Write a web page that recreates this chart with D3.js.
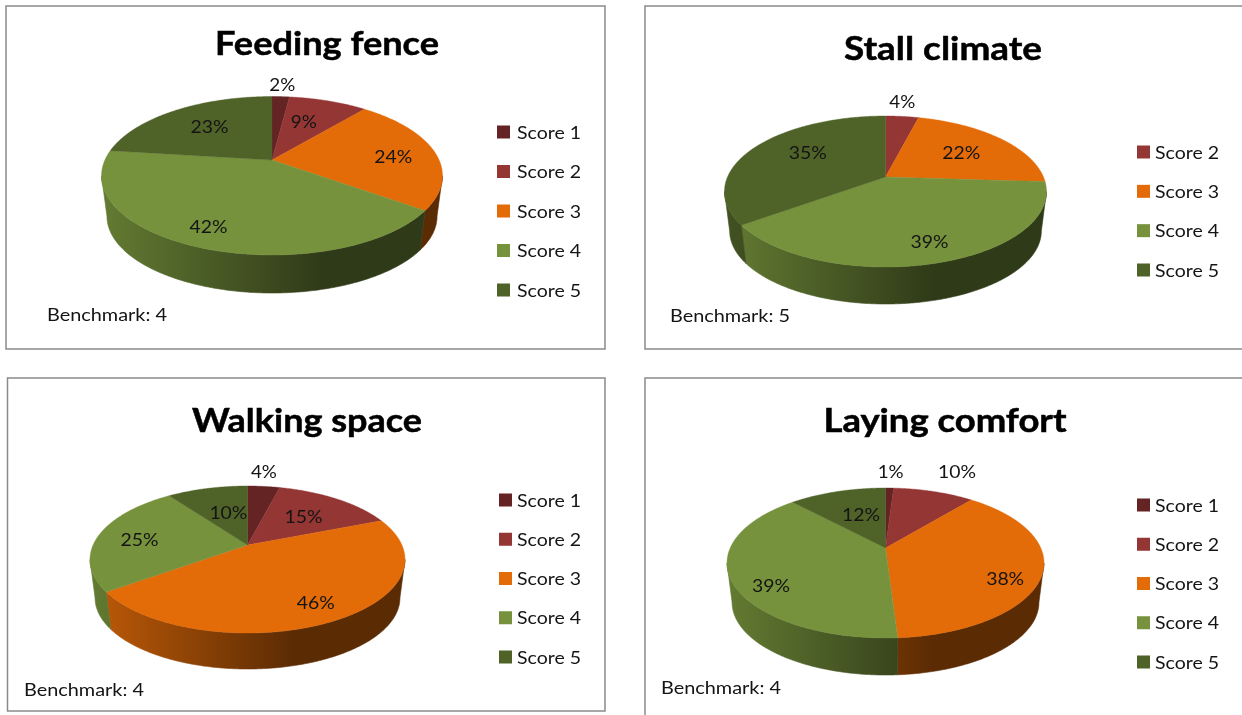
<!DOCTYPE html>
<html>
<head>
<meta charset="utf-8">
<script src="https://cdn.jsdelivr.net/npm/d3@7/dist/d3.min.js"></script>
<style>
html,body{margin:0;padding:0;background:#fff;overflow:hidden}
svg{display:block;filter:blur(0.5px)}
text{font-family:Lato,"Open Sans",sans-serif;fill:#141414}
</style>
</head>
<body>
<svg id="c" width="1242" height="715"></svg>
<script>
// ---- data ----
const scoreColors = {"Score 1":"#632423","Score 2":"#943634","Score 3":"#e36c09","Score 4":"#76923c","Score 5":"#4f6228"};
const titles = ["Feeding fence","Stall climate","Walking space","Laying comfort"];
const benchmarks = ["Benchmark: 4","Benchmark: 5","Benchmark: 4","Benchmark: 4"];
const feedingCats = ["Score 1","Score 2","Score 3","Score 4","Score 5"];
const feedingVals = [2,9,24,42,23];
const stallCats = ["Score 2","Score 3","Score 4","Score 5"];
const stallVals = [4,22,39,35];
const walkingCats = ["Score 1","Score 2","Score 3","Score 4","Score 5"];
const walkingVals = [4,15,46,25,10];
const layingCats = ["Score 1","Score 2","Score 3","Score 4","Score 5"];
const layingVals = [1,10,38,39,12];

// ---- layout (frame, pie projection, text placement) ----
const layouts = [
 {frame:[6,6,599,343], apex:[272,160], top:96.5, bot:255, hw:170.5, depth:38,
  title:[327,55,224], bench:[47,320.5], legend:[497,517,132,290],
  lab:[[1.18,0,0],[.62,-3,-1],[.75,0,4],[.8,-3,-2],[.66,1,0]]},
 {frame:[645,6,700,343], apex:[885.5,177], top:116, bot:267, hw:161, depth:37,
  title:[943,60,198], bench:[670,321.5], legend:[1137,1155,152,270],
  lab:[[1.25,-4,1],[.66,0,1],[.76,3,0],[.6,0,-6]]},
 {frame:[7.5,378,597.5,333], apex:[247.5,545], top:486, bot:633, hw:157.5, depth:36,
  title:[307,432,230], bench:[24,695.5], legend:[499,517,500,657],
  lab:[[1.26,-4,1],[.63,0,1],[.76,0,1],[.73,0,3],[.55,3,-1]]},
 {frame:[645,378,700,400], apex:[885.5,548], top:488, bot:638, hw:158.5, depth:37,
  title:[945,432,243], bench:[661,693.5], legend:[1137,1155,505,662],
  lab:[[1.28,0,1],[1.36,6,1],[.76,0,13],[.74,0,15],[.55,2,-2]]}
];
const series = [[feedingCats,feedingVals],[stallCats,stallVals],[walkingCats,walkingVals],[layingCats,layingVals]];

const svg = d3.select("#c");
const defs = svg.append("defs");
const shade = d3.scaleLinear().domain([0,.65,1]).range([.84,.4,.4]);
const line = d3.line();
const lowerScale = 0.968;   // the pie's underside is further from the viewer

series.forEach(([cats,vals],ci)=>{
  const L = layouts[ci];
  const g = svg.append("g");
  g.append("rect").attr("x",L.frame[0]).attr("y",L.frame[1]).attr("width",L.frame[2]).attr("height",L.frame[3])
    .attr("fill","#fff").attr("stroke","#8a8a8a").attr("stroke-width",1.5);

  // perspective projection of the unit pie plane onto the page
  const [ax,ay] = L.apex;
  const t = ay-L.top, d = L.bot-ay;
  const k = (d-t)/(d+t), b = t*(1+k), a = L.hw*Math.sqrt(1-k*k);
  const proj = (theta,r=1)=>{
    const X=r*Math.sin(theta), Y=r*Math.cos(theta), w=1+k*Y;
    return [ax+a*X/w, ay-b*Y/w];
  };
  const under = p=>[ax+(p[0]-ax)*lowerScale, ay+(p[1]-ay)*lowerScale+L.depth+d*(1-lowerScale)];
  const arcs = d3.pie().value(v=>v).sort(null)(vals);
  const vis0 = Math.acos(-k), vis1 = 2*Math.PI-vis0;
  const sample = (s,e)=>{
    const n=Math.max(2,Math.ceil((e-s)/0.01));
    return d3.range(n+1).map(i=>s+(e-s)*i/n);
  };

  // side walls
  arcs.forEach((A,i)=>{
    const s=Math.max(A.startAngle,vis0), e=Math.min(A.endAngle,vis1);
    if(e<=s) return;
    const col=d3.rgb(scoreColors[cats[i]]);
    const id=`w${ci}_${i}`;
    const gr=defs.append("linearGradient").attr("id",id).attr("gradientUnits","userSpaceOnUse")
      .attr("x1",ax-L.hw).attr("x2",ax+L.hw).attr("y1",0).attr("y2",0);
    d3.range(0,1.001,.13).concat([1]).forEach(f=>{
      const m=shade(f);
      gr.append("stop").attr("offset",f).attr("stop-color",d3.rgb(col.r*m,col.g*m,col.b*m).formatHex());
    });
    const upper=sample(s,e).map(th=>proj(th));
    const lower=upper.slice().reverse().map(under);
    g.append("path").attr("d",line(upper.concat(lower))+"Z").attr("fill",`url(#${id})`)
      .attr("stroke",`url(#${id})`).attr("stroke-width",.6);
  });

  // top faces
  arcs.forEach((A,i)=>{
    const pts=[[ax,ay]].concat(sample(A.startAngle,A.endAngle).map(th=>proj(th)));
    g.append("path").attr("d",line(pts)+"Z").attr("fill",scoreColors[cats[i]])
      .attr("stroke",scoreColors[cats[i]]).attr("stroke-width",.4);
  });

  // data labels
  arcs.forEach((A,i)=>{
    const edge=proj((A.startAngle+A.endAngle)/2);
    const [s,dx,dy]=L.lab[i];
    const txt=vals[i]+"%";
    g.append("text").attr("x",ax+(edge[0]-ax)*s+dx).attr("y",ay+(edge[1]-ay)*s+dy+6)
      .attr("text-anchor","middle").attr("font-size",18)
      .attr("textLength",txt.length===3?38:26).attr("lengthAdjust","spacingAndGlyphs").text(txt);
  });

  // title
  g.append("text").attr("x",L.title[0]).attr("y",L.title[1]).attr("text-anchor","middle")
    .attr("font-size",33).attr("font-weight",700).style("fill","#000").attr("stroke","#000").attr("stroke-width",.5)
    .attr("textLength",L.title[2]).attr("lengthAdjust","spacingAndGlyphs").text(titles[ci]);

  // benchmark
  g.append("text").attr("x",L.bench[0]).attr("y",L.bench[1]).attr("font-size",18)
    .attr("textLength",120).attr("lengthAdjust","spacingAndGlyphs").text(benchmarks[ci]);

  // legend
  const ly=d3.scalePoint().domain(cats).range([L.legend[2],L.legend[3]]);
  cats.forEach(c=>{
    g.append("rect").attr("x",L.legend[0]).attr("y",ly(c)-6.5).attr("width",13).attr("height",13).attr("fill",scoreColors[c]);
    g.append("text").attr("x",L.legend[1]).attr("y",ly(c)+6.5).attr("font-size",18)
      .attr("textLength",64).attr("lengthAdjust","spacingAndGlyphs").text(c);
  });
});
</script>
</body>
</html>
